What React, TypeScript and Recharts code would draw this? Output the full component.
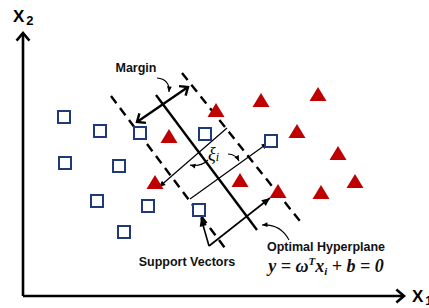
import React from 'react';
import { ComposedChart, XAxis, YAxis, Scatter, ReferenceLine, ReferenceDot } from 'recharts';

const W = 429;
const H = 308;

// class -1 samples (open squares), picture coordinates
const squarePoints = [
  { x: 64, y: 117 },
  { x: 100, y: 131 },
  { x: 140, y: 133 },
  { x: 205, y: 134 },
  { x: 271, y: 141 },
  { x: 65, y: 163 },
  { x: 119, y: 166 },
  { x: 97, y: 201 },
  { x: 148, y: 206 },
  { x: 199, y: 210 },
  { x: 124, y: 232 },
];

// class +1 samples (filled triangles)
const trianglePoints = [
  { x: 169, y: 137 },
  { x: 216, y: 111 },
  { x: 261, y: 101 },
  { x: 318, y: 95 },
  { x: 297, y: 132 },
  { x: 338, y: 154 },
  { x: 155, y: 183 },
  { x: 240, y: 181 },
  { x: 278, y: 192 },
  { x: 321, y: 193 },
  { x: 355, y: 182 },
];

const axisLines = [
  { from: { x: 23, y: 296 }, to: { x: 23, y: 33 } },
  { from: { x: 23, y: 296 }, to: { x: 404, y: 296 } },
];
const hyperplane = { from: { x: 156, y: 95 }, to: { x: 257, y: 230 } };
const marginLines = [
  { from: { x: 111, y: 96 }, to: { x: 225, y: 248 } },
  { from: { x: 182, y: 73 }, to: { x: 303, y: 225 } },
];
const marginArrow = { from: { x: 137, y: 122 }, to: { x: 188, y: 87 } };
const slackArrows = [
  { from: { x: 227, y: 128 }, to: { x: 159, y: 187 } },
  { from: { x: 190, y: 199 }, to: { x: 268, y: 143 } },
];
const supportArrows = [
  { from: { x: 209, y: 246 }, to: { x: 201, y: 218 } },
  { from: { x: 209, y: 246 }, to: { x: 270, y: 198 } },
];
// small curved pointers: Margin, xi -> left, xi -> right, hyperplane
const pointerCurves = [
  { from: { x: 157, y: 78 }, to: { x: 169, y: 92 } },
  { from: { x: 208, y: 160 }, to: { x: 190, y: 165 } },
  { from: { x: 228, y: 154 }, to: { x: 239, y: 161 } },
  { from: { x: 289, y: 240 }, to: { x: 262, y: 225 } },
];
const pointerBends = [9, 5, 4, -10];

const labelTexts = ['Margin', 'Support Vectors', 'Optimal Hyperplane'];
const labelAnchors = [
  { x: 136, y: 72 },
  { x: 187, y: 266 },
  { x: 326, y: 251 },
];
const axisNames = [
  { x: 13, y: 22, sub: '2' },
  { x: 412, y: 302, sub: '1' },
];
const xiAnchor = { x: 208, y: 160 };
const equationAnchor = { x: 326, y: 272 };

const SANS = '"Liberation Sans", Arial, sans-serif';
const SERIF = '"Liberation Serif", "Times New Roman", serif';

type ArrowOpts = {
  head: 'none' | 'end' | 'both';
  filled?: boolean;
  size?: number;
  width: number;
  dash?: string;
  bend?: number;
};

const arrowShape = (o: ArrowOpts) => (p: any) => {
  const { x1, y1, x2, y2 } = p;
  const dx = x2 - x1;
  const dy = y2 - y1;
  const len = Math.hypot(dx, dy) || 1;
  const bend = o.bend ?? 0;
  const cx = (x1 + x2) / 2 + (bend * dy) / len;
  const cy = (y1 + y2) / 2 - (bend * dx) / len;
  const d = bend ? `M${x1},${y1} Q${cx},${cy} ${x2},${y2}` : `M${x1},${y1} L${x2},${y2}`;
  const size = o.size ?? 7;

  const head = (tx: number, ty: number, fx: number, fy: number, key: string) => {
    const a = Math.atan2(ty - fy, tx - fx);
    const spread = o.filled ? 0.42 : 0.7;
    const ax = tx - size * Math.cos(a - spread);
    const ay = ty - size * Math.sin(a - spread);
    const bx = tx - size * Math.cos(a + spread);
    const by = ty - size * Math.sin(a + spread);
    const pts = `${ax},${ay} ${tx},${ty} ${bx},${by}`;
    return o.filled ? (
      <polygon key={key} points={pts} fill="#000" />
    ) : (
      <polyline key={key} points={pts} fill="none" stroke="#000" strokeWidth={o.width} strokeLinejoin="miter" />
    );
  };

  const heads = [];
  if (o.head !== 'none') heads.push(head(x2, y2, bend ? cx : x1, bend ? cy : y1, 'e'));
  if (o.head === 'both') heads.push(head(x1, y1, bend ? cx : x2, bend ? cy : y2, 's'));

  return (
    <g>
      <path d={d} fill="none" stroke="#000" strokeWidth={o.width} strokeDasharray={o.dash} />
      {heads}
    </g>
  );
};

const squareShape = (p: any) => (
  <rect x={p.cx - 6} y={p.cy - 6} width={12} height={12} fill="#fff" stroke="#1f3a7a" strokeWidth={2} />
);

const triangleShape = (p: any) => (
  <polygon
    points={`${p.cx},${p.cy - 8} ${p.cx + 8.5},${p.cy + 6} ${p.cx - 8.5},${p.cy + 6}`}
    fill="#c00000"
  />
);

const textShape = (txt: string) => (p: any) => (
  <text x={p.cx} y={p.cy} textAnchor="middle" fontFamily={SANS} fontWeight="bold" fontSize={12.5} fill="#111">
    {txt}
  </text>
);

const axisNameShape = (sub: string) => (p: any) => (
  <text x={p.cx} y={p.cy} fontFamily={SANS} fontWeight="bold" fontSize={17} fill="#000">
    X
    <tspan fontSize={13} dx={2} dy={3}>
      {sub}
    </tspan>
  </text>
);

const xiShape = (p: any) => (
  <text x={p.cx} y={p.cy} fontFamily={SERIF} fontStyle="italic" fontSize={18} fill="#000">
    ξ
    <tspan fontSize={12} dy={1}>
      i
    </tspan>
  </text>
);

const equationShape = (p: any) => (
  <text
    x={p.cx}
    y={p.cy}
    textAnchor="middle"
    fontFamily={SERIF}
    fontStyle="italic"
    fontWeight="bold"
    fontSize={18}
    fill="#111"
  >
    y = ω
    <tspan fontSize={11} dy={-7}>
      T
    </tspan>
    <tspan dy={7}>x</tspan>
    <tspan fontSize={11} dy={3}>
      i
    </tspan>
    <tspan dy={-3}> + b = 0</tspan>
  </text>
);

export default function App() {
  return (
    <div style={{ position: 'absolute', left: 0, top: 0, width: W, height: H, background: '#fff' }}>
      <ComposedChart width={W} height={H} margin={{ top: 0, right: 0, bottom: 0, left: 0 }}>
        <XAxis dataKey="x" type="number" domain={[0, W]} hide />
        <YAxis dataKey="y" type="number" domain={[0, H]} reversed hide />

        <Scatter data={trianglePoints} shape={triangleShape} isAnimationActive={false} />

        {axisLines.map((l, i) => (
          <ReferenceLine
            key={`ax${i}`}
            segment={[l.from, l.to]}
            ifOverflow="visible"
            shape={arrowShape({ head: 'end', width: 2.6, size: 10 })}
          />
        ))}
        {marginLines.map((l, i) => (
          <ReferenceLine
            key={`ml${i}`}
            segment={[l.from, l.to]}
            ifOverflow="visible"
            shape={arrowShape({ head: 'none', width: 2.4, dash: '9 6' })}
          />
        ))}
        <ReferenceLine
          segment={[hyperplane.from, hyperplane.to]}
          ifOverflow="visible"
          shape={arrowShape({ head: 'none', width: 2.4 })}
        />
        <ReferenceLine
          segment={[marginArrow.from, marginArrow.to]}
          ifOverflow="visible"
          shape={arrowShape({ head: 'both', width: 2.4, size: 9 })}
        />
        {slackArrows.map((l, i) => (
          <ReferenceLine
            key={`sl${i}`}
            segment={[l.from, l.to]}
            ifOverflow="visible"
            shape={arrowShape({ head: 'end', filled: true, width: 1.2, size: 7 })}
          />
        ))}
        {supportArrows.map((l, i) => (
          <ReferenceLine
            key={`sv${i}`}
            segment={[l.from, l.to]}
            ifOverflow="visible"
            shape={arrowShape({ head: 'end', filled: true, width: 1.6, size: 9 })}
          />
        ))}
        {pointerCurves.map((l, i) => (
          <ReferenceLine
            key={`pc${i}`}
            segment={[l.from, l.to]}
            ifOverflow="visible"
            shape={arrowShape({ head: 'end', filled: true, width: 1.1, size: 6, bend: pointerBends[i] })}
          />
        ))}

        <Scatter data={squarePoints} shape={squareShape} isAnimationActive={false} />

        {labelTexts.map((t, i) => (
          <ReferenceDot
            key={`lb${i}`}
            x={labelAnchors[i].x}
            y={labelAnchors[i].y}
            ifOverflow="visible"
            shape={textShape(t)}
          />
        ))}
        {axisNames.map((a, i) => (
          <ReferenceDot key={`an${i}`} x={a.x} y={a.y} ifOverflow="visible" shape={axisNameShape(a.sub)} />
        ))}
        <ReferenceDot x={xiAnchor.x} y={xiAnchor.y} ifOverflow="visible" shape={xiShape} />
        <ReferenceDot x={equationAnchor.x} y={equationAnchor.y} ifOverflow="visible" shape={equationShape} />
      </ComposedChart>
    </div>
  );
}
